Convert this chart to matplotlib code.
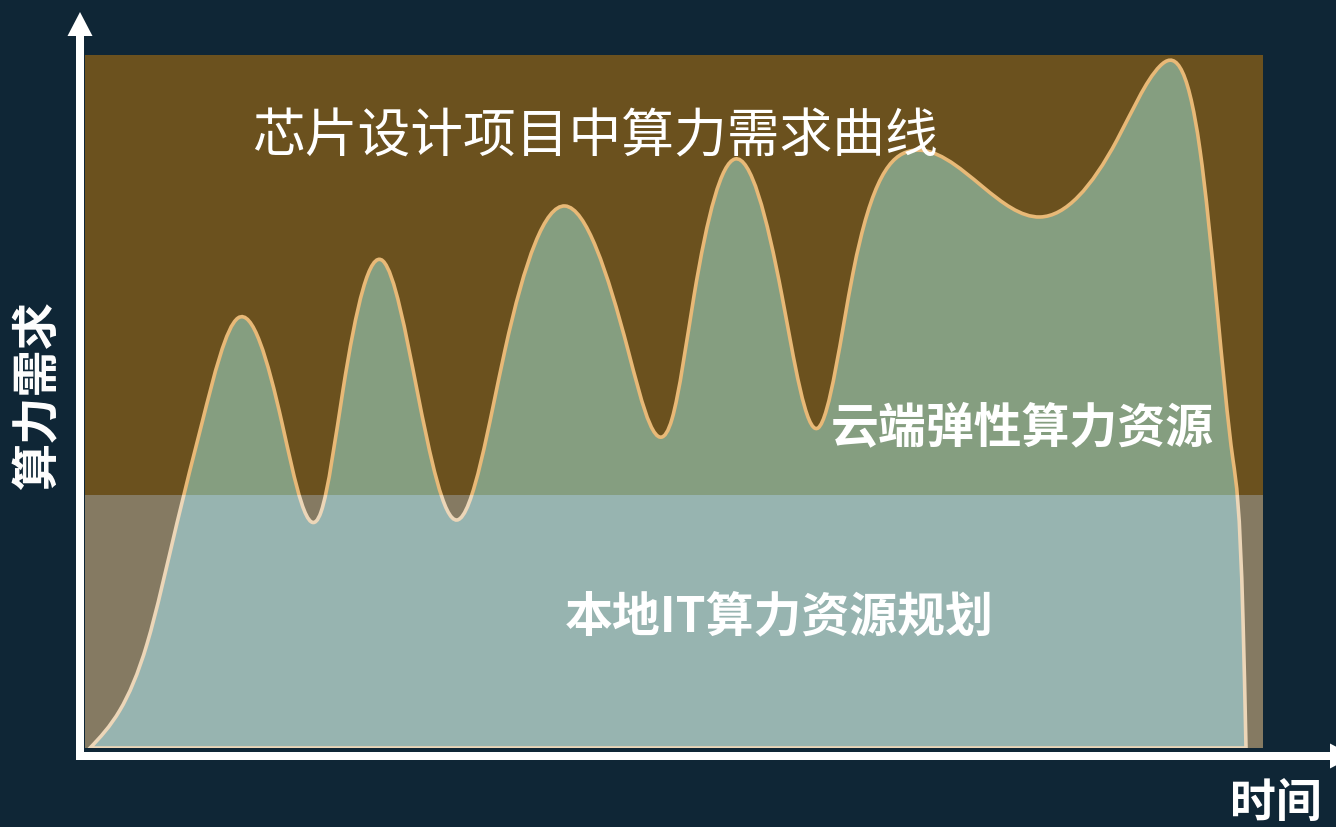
import numpy as np
import matplotlib
matplotlib.use('Agg')
from matplotlib import pyplot as plt
from matplotlib.path import Path
from matplotlib.patches import PathPatch, Polygon, FancyArrow

plt.rcParams['font.family'] = ['Noto Sans CJK SC', 'DejaVu Sans']

# demand curve (time, demand): peaks, troughs and flank points
time = [0.5, 3.5, 6.2, 9.2, 11.7, 15.3, 19.7, 23.6, 25.8, 29.8, 33.2, 37.2,
        42.0, 48.0, 54.3, 58.7, 60.9, 65.0, 69.7, 73.3, 76.8, 82.5, 89.8,
        95.5, 103.2, 107.5, 111.5, 113.2, 114.8, 115.8, 116.1]
demand = [0.0, 3.8, 10.4, 22.5, 32.5, 43.0, 32.5, 23.6, 35.8, 48.7, 35.8, 22.8,
          39.8, 54.2, 39.8, 32.9, 45.2, 58.9, 45.2, 32.0, 47.5, 59.7, 56.1,
          53.1, 60.8, 68.2, 59.8, 44.1, 28.8, 12.8, 0.0]
local_level = 25.3   # local IT capacity

title = '芯片设计项目中算力需求曲线'
cloud_label = '云端弹性算力资源'
local_label = '本地IT算力资源规划'
y_label = '算力需求'
x_label = '时间'

bg = '#0f2636'
brown = '#6b511e'
W, H = 1336, 827


def spline_slopes(x, y):
    # natural cubic spline, first derivative at each knot
    x = np.asarray(x, float)
    y = np.asarray(y, float)
    n = len(x)
    h = np.diff(x)
    A = np.zeros((n, n))
    r = np.zeros(n)
    A[0, 0] = A[-1, -1] = 1
    for i in range(1, n - 1):
        A[i, i - 1] = h[i - 1]
        A[i, i] = 2 * (h[i - 1] + h[i])
        A[i, i + 1] = h[i]
        r[i] = 6 * ((y[i + 1] - y[i]) / h[i] - (y[i] - y[i - 1]) / h[i - 1])
    M = np.linalg.solve(A, r)
    m = np.zeros(n)
    for i in range(n - 1):
        m[i] = (y[i + 1] - y[i]) / h[i] - h[i] * (2 * M[i] + M[i + 1]) / 6
    m[-1] = (y[-1] - y[-2]) / h[-1] + h[-1] * (M[-2] + 2 * M[-1]) / 6
    return m


def curve_path(x, y):
    m = spline_slopes(x, y)
    verts = [(x[0], y[0])]
    codes = [Path.MOVETO]
    for i in range(len(x) - 1):
        h = x[i + 1] - x[i]
        verts += [(x[i] + h / 3, y[i] + m[i] * h / 3),
                  (x[i + 1] - h / 3, y[i + 1] - m[i + 1] * h / 3),
                  (x[i + 1], y[i + 1])]
        codes += [Path.CURVE4] * 3
    verts += [(x[0], 0), (x[0], y[0])]
    codes += [Path.LINETO, Path.CLOSEPOLY]
    return Path(verts, codes)


fig = plt.figure(figsize=(W / 100, H / 100), dpi=100, facecolor=bg)
ax = fig.add_axes([85 / W, 79 / H, 1178 / W, 693 / H])
ax.set_xlim(0, 117.8)
ax.set_ylim(0, 69.3)
ax.axis('off')
ax.axhspan(local_level, 69.3, color=brown, zorder=0, lw=0)
ax.axhspan(0, local_level, color='#857a62', zorder=1, lw=0)

path = curve_path(time, demand)
p1 = PathPatch(path, facecolor='#859e80', edgecolor='#e8b977', lw=2.6, zorder=2)
ax.add_patch(p1)
p1.set_clip_path(Polygon([(-5, local_level), (125, local_level), (125, 80), (-5, 80)],
                         transform=ax.transData))
p2 = PathPatch(path, facecolor='#97b4b0', edgecolor='#ecd6b8', lw=2.6, zorder=2)
ax.add_patch(p2)
p2.set_clip_path(Polygon([(-5, -10), (125, -10), (125, local_level), (-5, local_level)],
                         transform=ax.transData))

# overlay for arrows and labels in pixel units
ov = fig.add_axes([0, 0, 1, 1], zorder=5)
ov.set_xlim(0, W)
ov.set_ylim(H, 0)
ov.axis('off')
ov.patch.set_alpha(0)
ov.add_patch(FancyArrow(80, 760, 0, -748, width=8, head_width=25, head_length=24,
                        length_includes_head=True, color='white', lw=0))
ov.add_patch(FancyArrow(76, 756, 1278, 0, width=8, head_width=25, head_length=24,
                        length_includes_head=True, color='white', lw=0))

ov.text(595, 137, title, ha='center', va='center', fontsize=38, color='white')
ov.text(1022, 428, cloud_label, ha='center', va='center', fontsize=34.5,
        color='white', weight='bold')
ov.text(779, 617, local_label, ha='center', va='center', fontsize=34.5,
        color='white', weight='bold')
ov.text(38, 395, y_label, ha='center', va='center', rotation=90, fontsize=34,
        color='white', weight='bold')
ov.text(1276, 805, x_label, ha='center', va='center', fontsize=33,
        color='white', weight='bold')

fig.savefig('out.png', dpi=100, facecolor=bg)
